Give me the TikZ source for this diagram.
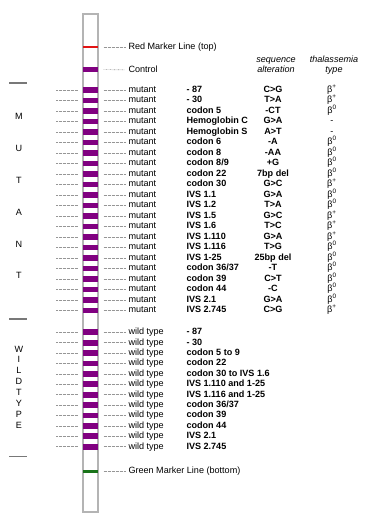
\documentclass[tikz,border=0pt]{standalone}
\usepackage{fontspec}
\setmainfont{Liberation Sans}
\tikzset{every picture/.style={line width=0.75pt}}
\newcommand{\bplus}{β\textsuperscript{+}}
\newcommand{\bzero}{β\textsuperscript{0}}

\begin{document}
\fontsize{6.8}{8}\selectfont
\begin{tikzpicture}[x=0.75pt,y=0.75pt,yscale=-1,xscale=1,
  band/.style={rectangle,inner sep=0pt,minimum width=10.6pt,minimum height=4.4pt,fill={rgb, 255:red, 128; green, 0; blue, 128 }},
  mline/.style={rectangle,inner sep=0pt,minimum width=10.6pt,minimum height=1.9pt},
  lbl/.style={anchor=west,inner sep=0pt,text height=5pt,text depth=1.4pt},
  nm/.style={lbl,font=\bfseries},
  alt/.style={inner sep=0pt,text height=5pt,text depth=1.4pt,font=\bfseries},
  ttl/.style={inner sep=0pt,text height=5pt,text depth=1.4pt,font=\itshape},
  leader/.style={draw={rgb, 255:red, 150; green, 150; blue, 150 },dash pattern=on 0.45pt off 0.55pt,line width=0.45pt},
  rlead/.style={leader,shorten <=4.1pt,shorten >=2.3pt},
  llead/.style={leader,shorten >=4.1pt},
  sep/.style={draw={rgb, 255:red, 120; green, 120; blue, 120 },line width=0.9pt}]
\useasboundingbox (0,0) rectangle (364,516);

% strip
\draw [color={rgb, 255:red, 180; green, 180; blue, 180 },line width=0.9pt,fill=white] (83,14) rectangle (98,512);

\node [mline,fill={rgb, 255:red, 225; green, 20; blue, 20 }] (red) at (90.5,47) {};
\node [lbl] (redlbl) at (128,47) {Red Marker Line (top)};
\draw [rlead] (red) -- (redlbl);

\node [band] (ctrl) at (90.5,69.5) {};
\node [lbl] (ctrllbl) at (128,70) {Control};
\draw [rlead] (ctrl) -- (ctrllbl);

\node [mline,fill={rgb, 255:red, 25; green, 115; blue, 25 }] (green) at (90.5,471.5) {};
\node [lbl] (greenlbl) at (128,471.5) {Green Marker Line (bottom)};
\draw [rlead] (green) -- (greenlbl);

\node [ttl] (seq) at (276,60) {sequence};
\node [ttl] (seqb) at (276,70) {alteration};
\node [ttl] (thal) at (334,60) {thalassemia};
\node [ttl] (thalb) at (334,70) {type};

% mutant rows
\foreach \nme/\alt/\typ [count=\i from 0] in {- 87/C>G/\bplus, - 30/T>A/\bplus, codon 5/-CT/\bzero,
  Hemoglobin C/G>A/-, Hemoglobin S/A>T/-, codon 6/-A/\bzero, codon 8/-AA/\bzero, {codon 8/9}/+G/\bzero,
  codon 22/7bp del/\bzero, codon 30/G>C/\bplus, IVS 1.1/G>A/\bzero, IVS 1.2/T>A/\bzero,
  IVS 1.5/G>C/\bplus, IVS 1.6/T>C/\bplus, IVS 1.110/G>A/\bplus, IVS 1.116/T>G/\bzero,
  IVS 1-25/25bp del/\bzero, {codon 36/37}/-T/\bzero, codon 39/C>T/\bzero, codon 44/-C/\bzero,
  IVS 2.1/G>A/\bzero, IVS 2.745/C>G/\bplus}{
  \pgfmathsetmacro\y{90+10.5*\i}
  \node [band] (m\i) at (90.5,\y) {};
  \node [lbl] (ml\i) at (128,\y) {mutant};
  \node [nm] (mn\i) at (186,\y) {\nme};
  \node [alt] (ma\i) at (273,\y) {\alt};
  \node [alt,font=\mdseries] (mt\i) at (332,\y) {\typ};
  \coordinate (mc\i) at (56,\y);
  \draw [rlead] (m\i) -- (ml\i);
  \draw [llead] (mc\i) -- (m\i);
}

% wild type rows
\foreach \nme [count=\i from 0] in {- 87, - 30, codon 5 to 9, codon 22, codon 30 to IVS 1.6,
  IVS 1.110 and 1-25, IVS 1.116 and 1-25, {codon 36/37}, codon 39, codon 44, IVS 2.1, IVS 2.745}{
  \pgfmathsetmacro\y{332.3+10.4*\i}
  \node [band] (w\i) at (90.5,\y) {};
  \node [lbl] (wl\i) at (128,\y) {wild type};
  \node [nm] (wn\i) at (186,\y) {\nme};
  \coordinate (wc\i) at (56,\y);
  \draw [rlead] (w\i) -- (wl\i);
  \draw [llead] (wc\i) -- (w\i);
}

% side labels
\draw [sep] (9,83) -- (27,83);
\draw [sep] (9,319) -- (27,319);
\draw [sep] (9,456.5) -- (27,456.5);
\foreach \ltr/\y in {M/116, U/148, T/180.5, A/212, N/244, T/275.5}
  \node (s\y) at (19,\y) {\ltr};
\foreach \ltr [count=\i from 0] in {W,I,L,D,T,Y,P,E}
  \node (v\i) at (19,349+10.85*\i) {\ltr};

\end{tikzpicture}
\end{document}
